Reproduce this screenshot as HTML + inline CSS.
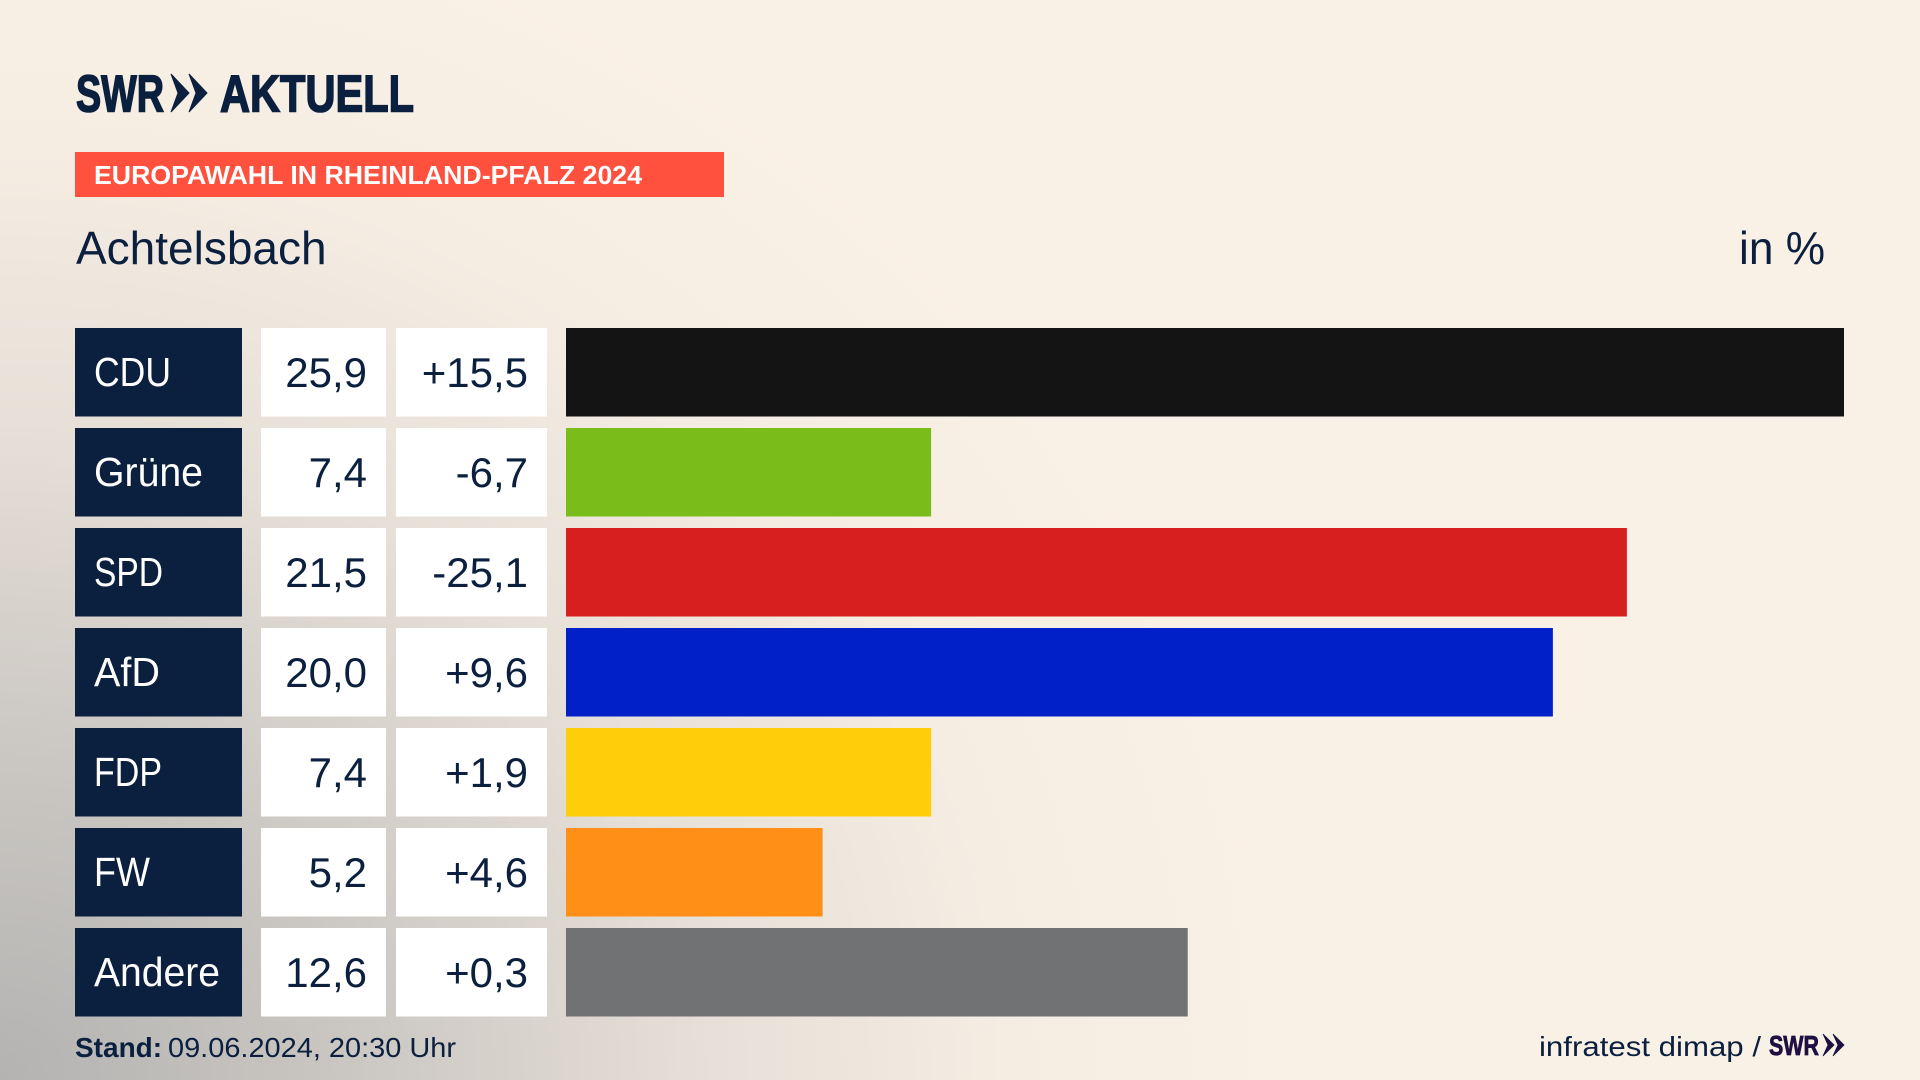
<!DOCTYPE html>
<html lang="de">
<head>
<meta charset="utf-8">
<title>Europawahl in Rheinland-Pfalz 2024 – Achtelsbach</title>
<style>
html,body{margin:0;padding:0;width:1920px;height:1080px;overflow:hidden;background:#faf1e6}
#stage{position:absolute;left:0;top:0;width:1920px;height:1080px;
background:
radial-gradient(ellipse 1300px 1200px at 0px 1080px,rgba(172,172,172,.9) 0%,rgba(190,188,185,.75) 30%,rgba(215,210,204,.55) 55%,rgba(235,227,218,.3) 78%,rgba(250,241,230,0) 100%),
#faf1e6}
svg{position:absolute;left:0;top:0}
text{font-family:"Liberation Sans",sans-serif}
</style>
</head>
<body>
<div id="stage">
<svg id="chart" width="1920" height="1080" viewBox="0 0 1920 1080">
  <g>
    <text x="76" y="111.5" font-size="52" font-weight="700" fill="#0b1f3e" stroke="#0b1f3e" stroke-width="1.6" textLength="88" lengthAdjust="spacingAndGlyphs">SWR</text>
    <polygon points="171,74 189,93 171,112 178,93" fill="#0b1f3e" stroke="#0b1f3e" stroke-width="1"/>
    <polygon points="189,74 207,93 189,112 196,93" fill="#0b1f3e" stroke="#0b1f3e" stroke-width="1"/>
    <text x="220" y="111.5" font-size="52" font-weight="700" fill="#0b1f3e" stroke="#0b1f3e" stroke-width="1.6" textLength="194" lengthAdjust="spacingAndGlyphs">AKTUELL</text>
  </g>
  <rect x="75" y="152" width="649" height="45" fill="#ff513d"/>
  <text x="94" y="184" font-size="26" font-weight="700" fill="#ffffff" textLength="548" lengthAdjust="spacingAndGlyphs">EUROPAWAHL IN RHEINLAND-PFALZ 2024</text>
  <text x="76" y="264" font-size="46" fill="#0b1f3e">Achtelsbach</text>
  <text x="1739" y="264" font-size="46" fill="#0b1f3e" textLength="86" lengthAdjust="spacingAndGlyphs">in %</text>
  <g id="rows"></g>
  <text x="75" y="1057" font-size="28" font-weight="700" fill="#0b1f3e">Stand:</text>
  <text x="168" y="1057" font-size="28" fill="#0b1f3e" textLength="288" lengthAdjust="spacingAndGlyphs">09.06.2024, 20:30 Uhr</text>
  <text x="1539" y="1056" font-size="28" fill="#0b1f3e" textLength="222" lengthAdjust="spacingAndGlyphs">infratest dimap /</text>
  <text x="1769" y="1055" font-size="28" font-weight="700" fill="#1e1040" stroke="#1e1040" stroke-width="0.8" textLength="50" lengthAdjust="spacingAndGlyphs">SWR</text>
  <polygon points="1823,1034 1834,1045 1823,1056 1828,1045" fill="#1e1040" stroke="#1e1040" stroke-width="0.8"/>
  <polygon points="1833,1034 1844,1045 1833,1056 1838,1045" fill="#1e1040" stroke="#1e1040" stroke-width="0.8"/>
</svg>
</div>
<script>
const parties = ["CDU", "Grüne", "SPD", "AfD", "FDP", "FW", "Andere"];
const shares = [25.9, 7.4, 21.5, 20.0, 7.4, 5.2, 12.6];
const changes = [15.5, -6.7, -25.1, 9.6, 1.9, 4.6, 0.3];
const partyColors = ["#141414", "#7abd1a", "#d7201e", "#0120c8", "#ffce0a", "#ff8f16", "#717274"];

const NS = "http://www.w3.org/2000/svg";
const rowsGroup = document.getElementById("rows");
const domainMax = 25.9;
const barLeft = 566;
const barRange = 1278;
const rowTop = 328;
const rowStep = 100;
const rowHeight = 88.5;
const labelFit = { "CDU": 77, "Grüne": 109, "SPD": 69, "AfD": 66, "FDP": 68, "FW": 56, "Andere": 126 };

function xScale(v) { return barRange * v / domainMax; }
function yScale(i) { return rowTop + i * rowStep; }
function fmt(v) { return v.toFixed(1).replace(".", ","); }
function fmtDelta(v) { return (v >= 0 ? "+" : "-") + Math.abs(v).toFixed(1).replace(".", ","); }

function makeRect(x, y, w, h, fill) {
  const r = document.createElementNS(NS, "rect");
  r.setAttribute("x", x);
  r.setAttribute("y", y);
  r.setAttribute("width", w);
  r.setAttribute("height", h);
  r.setAttribute("fill", fill);
  return r;
}
function makeText(x, y, str, fill, anchor) {
  const t = document.createElementNS(NS, "text");
  t.setAttribute("x", x);
  t.setAttribute("y", y);
  t.setAttribute("fill", fill);
  t.setAttribute("text-anchor", anchor);
  t.setAttribute("font-size", "42");
  t.textContent = str;
  return t;
}

parties.forEach(function (party, i) {
  const y = yScale(i);
  const baseline = y + 59;

  const nameBox = makeRect(75, y, 167, rowHeight, "#0b1f3e");
  
  
  rowsGroup.appendChild(nameBox);

  const nameText = makeText(94, baseline - 1, party, "#ffffff", "start");
  
  
  nameText.setAttribute("font-size", "41");
  if (labelFit[party]) {
    nameText.setAttribute("textLength", labelFit[party]);
    nameText.setAttribute("lengthAdjust", "spacingAndGlyphs");
  }
  rowsGroup.appendChild(nameText);

  const shareBox = makeRect(261, y, 125, rowHeight, "#ffffff");
  
  
  rowsGroup.appendChild(shareBox);

  const shareText = makeText(367, baseline, fmt(shares[i]), "#0b1f3e", "end");
  
  
  rowsGroup.appendChild(shareText);

  const changeBox = makeRect(396, y, 151, rowHeight, "#ffffff");
  
  
  rowsGroup.appendChild(changeBox);

  const changeText = makeText(528, baseline, fmtDelta(changes[i]), "#0b1f3e", "end");
  
  
  rowsGroup.appendChild(changeText);

  const bar = makeRect(barLeft, y, xScale(shares[i]), rowHeight, partyColors[i]);
  
  
  rowsGroup.appendChild(bar);
});
</script>
</body>
</html>
